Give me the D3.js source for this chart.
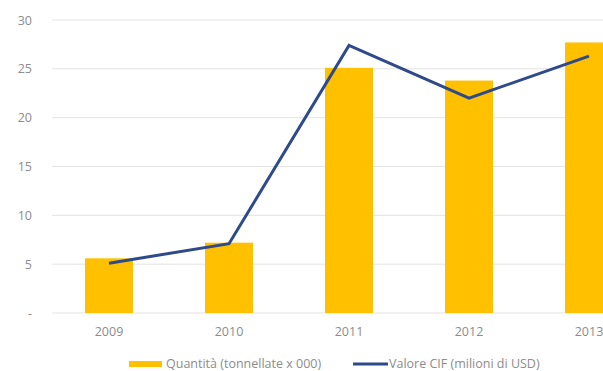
<!DOCTYPE html>
<html>
<head>
<meta charset="utf-8">
<script src="https://cdn.jsdelivr.net/npm/d3@7"></script>
<style>
  body { margin: 0; background: #fff; }
  text { font-family: "Open Sans", sans-serif; fill: #8c8c8c; }
</style>
</head>
<body>
<script>
const years = ["2009", "2010", "2011", "2012", "2013"];
const quantita = [5.6, 7.2, 25.1, 23.8, 27.7];
const valoreCIF = [5.1, 7.1, 27.4, 22.0, 26.3];
const yTicks = [0, 5, 10, 15, 20, 25, 30];
const legendLabels = ["Quantità (tonnellate x 000)", "Valore CIF (milioni di USD)"];

const width = 603,
    height = 371;

const svg = d3.select('body').append('svg')
    .attr('width', width)
    .attr('height', height);

// band runs past the right edge, the last year is cut off
const x = d3.scaleBand()
    .domain(years)
    .range([49, 649])
    .paddingInner(0.6)
    .paddingOuter(0.3);

const y = d3.scaleLinear()
    .domain([0, 30])
    .range([313, 20]);

//gridlines
svg.append('g')
    .selectAll('line')
    .data(yTicks)
    .enter()
    .append('line')
    .attr('x1', 52)
    .attr('x2', width)
    .attr('y1', d => y(d))
    .attr('y2', d => y(d))
    .attr('stroke', '#e3e3e3')
    .attr('stroke-width', 1);

//y labels
const yAxis = svg.append('g')
    .attr('transform', 'translate(35,0)')
    .call(d3.axisLeft(y).tickValues(yTicks).tickSize(0).tickFormat(d => d === 0 ? '-' : d));
yAxis.select('.domain').remove();
yAxis.selectAll('text').attr('font-size', 12.5).style('font-family', '"Open Sans", sans-serif').attr('fill', '#8c8c8c');

//x labels
const xAxis = svg.append('g')
    .attr('transform', 'translate(0,324)')
    .call(d3.axisBottom(x).tickSize(0));
xAxis.select('.domain').remove();
xAxis.selectAll('text').attr('font-size', 12.5).style('font-family', '"Open Sans", sans-serif').attr('fill', '#8c8c8c');

//bars
svg.append('g')
    .selectAll('rect')
    .data(quantita)
    .enter()
    .append('rect')
    .attr('x', (d, i) => x(years[i]))
    .attr('width', x.bandwidth())
    .attr('y', d => y(d))
    .attr('height', d => y(0) - y(d))
    .attr('fill', '#ffc000');

//line
const line = d3.line()
    .x((d, i) => x(years[i]) + x.bandwidth() / 2)
    .y(d => y(d));

svg.append('path')
    .datum(valoreCIF)
    .attr('d', line)
    .attr('fill', 'none')
    .attr('stroke', '#2f4a8a')
    .attr('stroke-width', 3)
    .attr('stroke-linejoin', 'miter');

//legend
const legend = svg.append('g');
legend.append('rect')
    .attr('x', 129).attr('y', 361)
    .attr('width', 33).attr('height', 6)
    .attr('fill', '#ffc000');
legend.append('text')
    .attr('x', 166).attr('y', 367.5)
    .attr('font-size', 12.5)
    .text(legendLabels[0]);
legend.append('line')
    .attr('x1', 353).attr('x2', 388)
    .attr('y1', 364).attr('y2', 364)
    .attr('stroke', '#2f4a8a')
    .attr('stroke-width', 3);
legend.append('text')
    .attr('x', 389).attr('y', 367.5)
    .attr('font-size', 12.5)
    .text(legendLabels[1]);
</script>
</body>
</html>
